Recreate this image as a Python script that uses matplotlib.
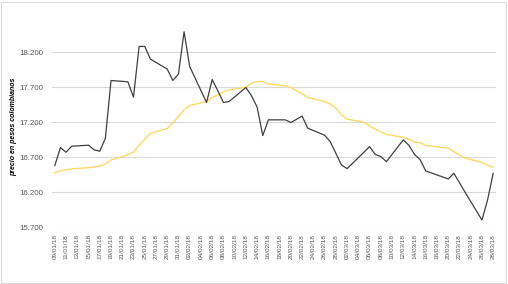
import matplotlib
matplotlib.use("Agg")
import matplotlib.pyplot as plt
import matplotlib.dates as mdates
from matplotlib.patches import Rectangle
from matplotlib.ticker import FuncFormatter, FixedLocator
import pandas as pd

dates = ["09/01/18", "10/01/18", "11/01/18", "12/01/18", "15/01/18", "16/01/18", "17/01/18",
         "18/01/18", "19/01/18", "22/01/18", "23/01/18", "24/01/18", "25/01/18", "26/01/18",
         "29/01/18", "30/01/18", "31/01/18", "01/02/18", "02/02/18", "05/02/18", "06/02/18",
         "07/02/18", "08/02/18", "09/02/18", "12/02/18", "13/02/18", "14/02/18", "15/02/18",
         "16/02/18", "19/02/18", "20/02/18", "21/02/18", "22/02/18", "23/02/18", "26/02/18",
         "27/02/18", "28/02/18", "01/03/18", "02/03/18", "05/03/18", "06/03/18", "07/03/18",
         "08/03/18", "09/03/18", "12/03/18", "13/03/18", "14/03/18", "15/03/18", "16/03/18",
         "20/03/18", "21/03/18", "22/03/18", "23/03/18", "26/03/18", "27/03/18", "28/03/18"]

precio = [16580, 16837, 16771, 16857, 16871, 16804, 16786,
          16971, 17794, 17776, 17557, 18280, 18280, 18100,
          17957, 17794, 17886, 18490, 17994, 17480, 17809,
          17647, 17480, 17494, 17694, 17576, 17414, 17009,
          17233, 17233, 17195, 17240, 17286, 17114, 17014,
          16923, 16757, 16590, 16537, 16771, 16851, 16740,
          16709, 16637, 16947, 16870, 16740, 16665, 16504,
          16390, 16471, 16337, 16200, 15804, 16090, 16471]

promedio = [16480, 16505, 16520, 16533, 16551, 16560, 16576,
            16604, 16661, 16735, 16771, 16870, 16960, 17040,
            17109, 17190, 17280, 17376, 17437, 17494, 17551,
            17590, 17630, 17661, 17700, 17757, 17780, 17780,
            17747, 17719, 17694, 17647, 17604, 17551, 17494,
            17457, 17400, 17304, 17243, 17200, 17145, 17100,
            17061, 17025, 16983, 16957, 16914, 16909, 16868,
            16829, 16780, 16730, 16688, 16625, 16585, 16557]

y_ticks = [15700, 16200, 16700, 17200, 17700, 18200]
y_label = "precio en pesos colombianos"

x = pd.to_datetime(dates, format="%d/%m/%y")

fig = plt.figure(figsize=(5.08, 2.84), dpi=100)
ax = fig.add_axes([52 / 508, 1 - 227.3 / 284, 444 / 508, 210.3 / 284])

ax.plot(x, promedio, color="#FFD966", lw=1.0, zorder=3)
ax.plot(x, precio, color="#404040", lw=0.9, zorder=4)

start = pd.Timestamp("2018-01-09")
end = pd.Timestamp("2018-03-28")
ax.set_xlim(start - pd.Timedelta(hours=12), end + pd.Timedelta(hours=12))
ax.set_ylim(15700, 18700)

xt = pd.date_range(start, end, freq="2D")
ax.xaxis.set_major_locator(FixedLocator(mdates.date2num(xt)))
ax.xaxis.set_major_formatter(mdates.DateFormatter("%d/%m/%y"))
ax.set_yticks(y_ticks)
ax.yaxis.set_major_formatter(FuncFormatter(lambda v, p: f"{int(v):,}".replace(",", ".")))

for lab in ax.get_xticklabels():
    lab.set_rotation(90)
    lab.set_fontsize(4.6)
    lab.set_color("#595959")
    lab.set_family("Liberation Sans")
for lab in ax.get_yticklabels():
    lab.set_fontsize(5.7)
    lab.set_color("#595959")
    lab.set_family("Liberation Sans")

ax.tick_params(axis="both", length=0)
ax.tick_params(axis="y", pad=6)
ax.tick_params(axis="x", pad=5)
ax.grid(axis="y", color="#d9d9d9", lw=0.8, zorder=0)
for s in ax.spines.values():
    s.set_visible(False)

ax.set_ylabel(y_label, fontsize=5.0, fontstyle="italic", fontweight="bold",
              family="Liberation Sans", color="#000000")
ax.yaxis.set_label_coords(-0.079, 0.479)

fig.patches.append(Rectangle((1 / 508, 1 / 284), 505 / 508, 281 / 284,
                             transform=fig.transFigure, fill=False,
                             edgecolor="#d9d9d9", lw=0.8))

fig.savefig("out.png", dpi=100)
